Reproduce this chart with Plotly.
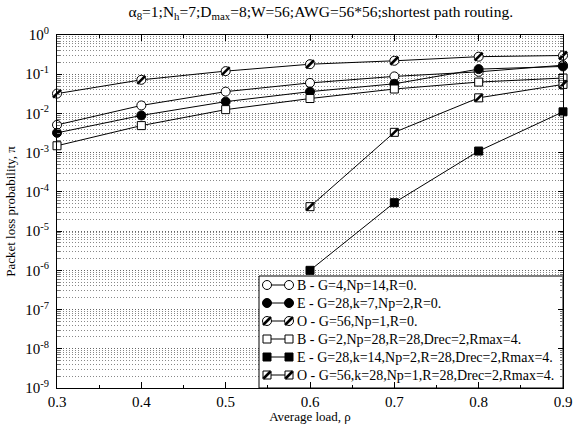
import plotly.graph_objects as go

# Offered load
load = [0.3, 0.4, 0.5, 0.6, 0.7, 0.8, 0.9]

# Packet loss probability, no retransmission (R=0)
b_r0 = [0.0051, 0.016, 0.036, 0.060, 0.088, 0.115, 0.17]
e_r0 = [0.0032, 0.0089, 0.020, 0.036, 0.057, 0.135, 0.158]
o_r0 = [0.032, 0.072, 0.12, 0.18, 0.22, 0.28, 0.30]

# Packet loss probability with retransmission (R=28, Drec=2, Rmax=4)
load_b_r28 = [0.3, 0.4, 0.5, 0.6, 0.7, 0.8, 0.9]
b_r28 = [0.0015, 0.0049, 0.0125, 0.024, 0.042, 0.063, 0.080]
load_e_r28 = [0.6, 0.7, 0.8, 0.9]
e_r28 = [1.0e-6, 5.3e-5, 1.1e-3, 0.011]
load_o_r28 = [0.6, 0.7, 0.8, 0.9]
o_r28 = [4.2e-5, 3.3e-3, 0.025, 0.055]

labels = [
    "B - G=4,Np=14,R=0.",
    "E - G=28,k=7,Np=2,R=0.",
    "O - G=56,Np=1,R=0.",
    "B - G=2,Np=28,R=28,Drec=2,Rmax=4.",
    "E - G=28,k=14,Np=2,R=28,Drec=2,Rmax=4.",
    "O - G=56,k=28,Np=1,R=28,Drec=2,Rmax=4.",
]

FONT = "Liberation Serif, serif"
W, H = 578, 424
ML, MR, MT, MB = 57, 15, 35, 36
PW, PH = W - ML - MR, H - MT - MB

# (x, y, symbol, fill, hatched)
series = [
    (load, b_r0, "circle", "white", False),
    (load, e_r0, "circle", "black", False),
    (load, o_r0, "circle", "white", True),
    (load_b_r28, b_r28, "square", "white", False),
    (load_e_r28, e_r28, "square", "black", False),
    (load_o_r28, o_r28, "square", "white", True),
]

fig = go.Figure()


def marker_style(symbol, fill):
    size = 9 if symbol == "circle" else 8
    return dict(symbol=symbol, size=size, color=fill,
                line=dict(color="black", width=1))


def hatch_style(symbol):
    size = 8 if symbol == "circle" else 7
    return dict(symbol="line-ne", size=size,
                line=dict(color="black", width=2.6))


for (xs, ys, sym, fill, hatched), name in zip(series, labels):
    fig.add_trace(go.Scatter(
        x=xs, y=ys, mode="lines+markers", name=name, showlegend=False,
        line=dict(color="black", width=1),
        marker=marker_style(sym, fill), cliponaxis=False,
    ))
    if hatched:
        fig.add_trace(go.Scatter(
            x=xs, y=ys, mode="markers", showlegend=False, hoverinfo="skip",
            marker=hatch_style(sym), cliponaxis=False,
        ))

# Legend panel drawn on an overlay axis spanning the plot area (0..1)
box_l, box_r, box_t, box_b = 259, 563, 276, 388
row0, row_step = 285, 18
swatch_l, swatch_r, text_x = 267, 289, 295


def fx(px):
    return (px - ML) / PW


def fy(py):
    return (MT + PH - py) / PH


bx = [fx(box_l), fx(box_r), fx(box_r), fx(box_l), fx(box_l)]
by = [fy(box_b), fy(box_b), fy(box_t), fy(box_t), fy(box_b)]
fig.add_trace(go.Scatter(
    x=bx, y=by, xaxis="x2", yaxis="y2", mode="lines", fill="toself",
    fillcolor="white", line=dict(color="black", width=1),
    showlegend=False, hoverinfo="skip", cliponaxis=False,
))

for i, ((xs, ys, sym, fill, hatched), name) in enumerate(zip(series, labels)):
    yy = fy(row0 + i * row_step)
    sx = [fx(swatch_l), fx(swatch_r)]
    fig.add_trace(go.Scatter(
        x=sx, y=[yy, yy], xaxis="x2", yaxis="y2", mode="lines+markers",
        showlegend=False, hoverinfo="skip",
        line=dict(color="black", width=1), marker=marker_style(sym, fill),
    ))
    if hatched:
        fig.add_trace(go.Scatter(
            x=sx, y=[yy, yy], xaxis="x2", yaxis="y2", mode="markers",
            showlegend=False, hoverinfo="skip", marker=hatch_style(sym),
        ))
    fig.add_annotation(x=fx(text_x), y=yy, xref="paper", yref="paper",
                       text=name, showarrow=False, xanchor="left",
                       yanchor="middle",
                       font=dict(family=FONT, size=14, color="black"))

decades = list(range(-9, 1))
GRID_DASH = "1px,2px"
fig.update_layout(
    width=W, height=H,
    margin=dict(l=ML, r=MR, t=MT, b=MB, pad=0),
    paper_bgcolor="white", plot_bgcolor="white",
    font=dict(family=FONT, size=14, color="black"),
    title=dict(
        text="α<sub>8</sub>=1;N<sub>h</sub>=7;D<sub>max</sub>=8;W=56;"
             "AWG=56*56;shortest path routing.",
        x=0.555, xanchor="center", y=0.985, yanchor="top",
        font=dict(family=FONT, size=15.5, color="black"),
    ),
    xaxis=dict(
        range=[0.3, 0.9], dtick=0.1, tick0=0.3, showgrid=False,
        zeroline=False, showline=True, linecolor="black", linewidth=1,
        mirror="allticks", ticks="inside", ticklen=6, tickcolor="black",
        minor=dict(dtick=0.05, ticks="inside", ticklen=3, tickcolor="black"),
        tickfont=dict(family=FONT, size=15), automargin=False,
        title=dict(text="Average load, ρ", standoff=1,
                   font=dict(family=FONT, size=13)),
    ),
    yaxis=dict(
        type="log", range=[-9, 0],
        tickvals=[10.0 ** d for d in decades],
        ticktext=[f"10<sup>{d}</sup>" for d in decades],
        showgrid=True, griddash=GRID_DASH, gridcolor="#666", gridwidth=1,
        zeroline=False, showline=True, linecolor="black", linewidth=1,
        mirror="allticks", ticks="inside", ticklen=5, tickcolor="black",
        minor=dict(dtick="D1", ticks="inside", ticklen=3, tickcolor="#777",
                   showgrid=True, griddash=GRID_DASH, gridcolor="#888",
                   gridwidth=1),
        tickfont=dict(family=FONT, size=15), automargin=False,
        ticklabelstandoff=4,
        title=dict(text="Packet loss probability, π", standoff=6,
                   font=dict(family=FONT, size=13)),
    ),
    xaxis2=dict(overlaying="x", range=[0, 1], visible=False,
                fixedrange=True),
    yaxis2=dict(overlaying="y", range=[0, 1], visible=False,
                fixedrange=True),
)

fig.write_html("out.html")
